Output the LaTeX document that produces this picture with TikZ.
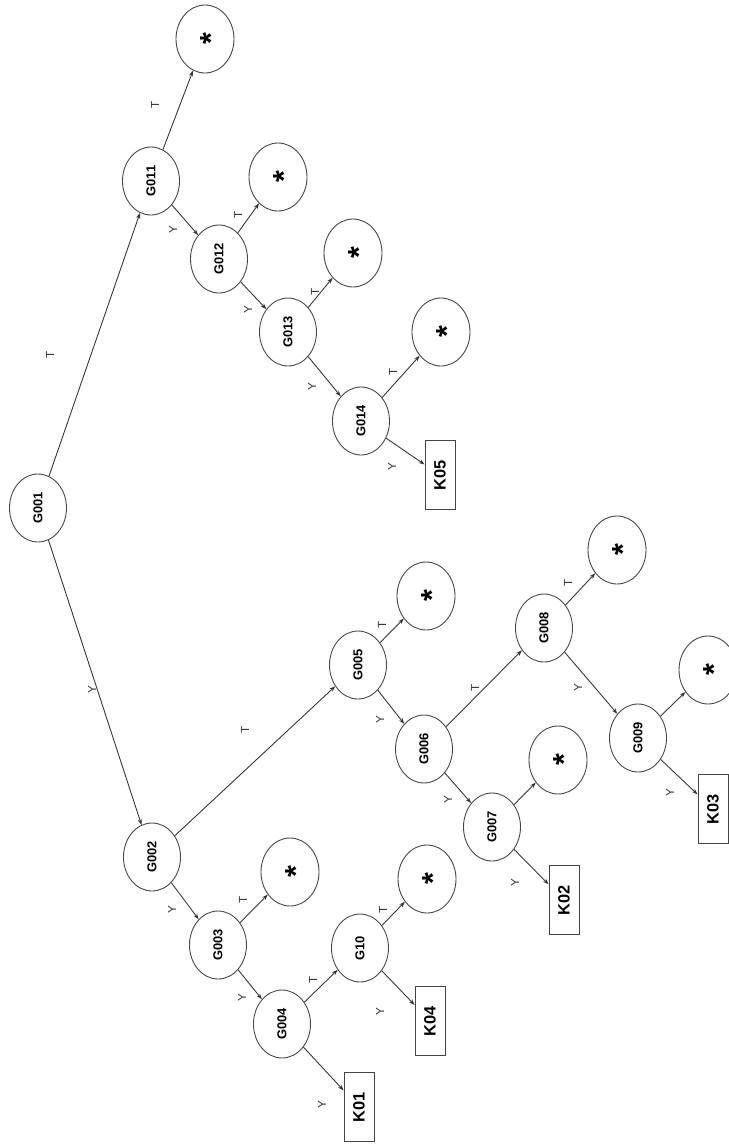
\documentclass[tikz,border=0pt]{standalone}
\usepackage{fontspec}
\setmainfont{Liberation Sans}
\usepackage{xcolor}
\usetikzlibrary{shapes.geometric,arrows.meta}
\definecolor{edgec}{HTML}{333333}
\definecolor{bordc}{HTML}{444444}
\newcommand{\starmark}{\smash{\raisebox{-0.55em}{*}}}

\begin{document}
\begin{tikzpicture}[x=0.03cm, y=-0.03cm,
    gnode/.style={ellipse, draw=bordc, line width=0.75pt, rotate=90, minimum width=2.04cm, minimum height=1.71cm, inner sep=1pt, font=\fontsize{11}{11}\selectfont\bfseries},
    starnode/.style={gnode, minimum height=1.74cm, font=\fontsize{26}{26}\selectfont\bfseries},
    kbox/.style={rectangle, draw=bordc, line width=0.75pt, rotate=90, minimum width=2.07cm, minimum height=0.9cm, inner sep=1pt, font=\fontsize{14}{14}\selectfont\bfseries},
    lbl/.style={rotate=90, inner sep=0pt, text=edgec, font=\fontsize{10}{10}\selectfont},
    arr/.style={draw=edgec, line width=0.75pt, -{Stealth[length=5pt,width=3.5pt]}}
]
    \useasboundingbox (0,0) rectangle (729,1148);

    % upper branch
    \node[gnode] (g001) at (38,508) {G001};
    \node[gnode] (g011) at (151,181) {G011};
    \node[starnode] (s11) at (205,39) {\starmark};
    \node[gnode] (g012) at (219,259) {G012};
    \node[starnode] (s12) at (278,177) {\starmark};
    \node[gnode] (g013) at (288,332) {G013};
    \node[starnode] (s13) at (353,253) {\starmark};
    \node[gnode] (g014) at (361,421) {G014};
    \node[starnode] (s14) at (441,332) {\starmark};
    \node[kbox] (k05) at (440,475) {K05};

    % lower branch
    \node[gnode] (g002) at (152,857) {G002};
    \node[gnode] (g003) at (218,945) {G003};
    \node[starnode] (s3) at (290,872) {\starmark};
    \node[gnode] (g004) at (282,1024) {G004};
    \node[gnode] (g10) at (360,948) {G10};
    \node[starnode] (s10) at (427,879) {\starmark};
    \node[kbox] (k04) at (430,1021) {K04};
    \node[kbox] (k01) at (359,1107) {K01};
    \node[gnode] (g005) at (358,665) {G005};
    \node[starnode] (s5) at (426,596) {\starmark};
    \node[gnode] (g006) at (424,749) {G006};
    \node[gnode] (g007) at (492,827) {G007};
    \node[starnode] (s7) at (558,760) {\starmark};
    \node[kbox] (k02) at (564,900) {K02};
    \node[gnode] (g008) at (544,628) {G008};
    \node[starnode] (s8) at (617,550) {\starmark};
    \node[gnode] (g009) at (638,738) {G009};
    \node[starnode] (s9) at (708,670) {\starmark};
    \node[kbox] (k03) at (713,809) {K03};

    \draw[arr] (g001) -- (g011);
    \draw[arr] (g001) -- (g002);
    \draw[arr] (g011) -- (s11);
    \draw[arr] (g011) -- (g012);
    \draw[arr] (g012) -- (s12);
    \draw[arr] (g012) -- (g013);
    \draw[arr] (g013) -- (s13);
    \draw[arr] (g013) -- (g014);
    \draw[arr] (g014) -- (s14);
    \draw[arr] (g014) -- (k05);
    \draw[arr] (g002) -- (g005);
    \draw[arr] (g002) -- (g003);
    \draw[arr] (g003) -- (s3);
    \draw[arr] (g003) -- (g004);
    \draw[arr] (g004) -- (g10);
    \draw[arr] (g004) -- (k01);
    \draw[arr] (g10) -- (s10);
    \draw[arr] (g10) -- (k04);
    \draw[arr] (g005) -- (s5);
    \draw[arr] (g005) -- (g006);
    \draw[arr] (g006) -- (g008);
    \draw[arr] (g006) -- (g007);
    \draw[arr] (g007) -- (s7);
    \draw[arr] (g007) -- (k02);
    \draw[arr] (g008) -- (s8);
    \draw[arr] (g008) -- (g009);
    \draw[arr] (g009) -- (s9);
    \draw[arr] (g009) -- (k03);

    % edge labels
    \node[lbl] (la1) at (50,355) {T};
    \node[lbl] (la2) at (92,690) {Y};
    \node[lbl] (la3) at (155,105) {T};
    \node[lbl] (la4) at (173,230) {Y};
    \node[lbl] (la5) at (238,215) {T};
    \node[lbl] (la6) at (248,310) {Y};
    \node[lbl] (la7) at (315,292) {T};
    \node[lbl] (la8) at (312,387) {Y};
    \node[lbl] (la9) at (393,372) {T};
    \node[lbl] (la10) at (392,467) {Y};
    \node[lbl] (la11) at (245,730) {T};
    \node[lbl] (la12) at (172,910) {Y};
    \node[lbl] (la13) at (243,900) {T};
    \node[lbl] (la14) at (242,998) {Y};
    \node[lbl] (la15) at (313,980) {T};
    \node[lbl] (la16) at (322,1105) {Y};
    \node[lbl] (la17) at (383,910) {T};
    \node[lbl] (la18) at (380,1012) {Y};
    \node[lbl] (la19) at (382,625) {T};
    \node[lbl] (la20) at (380,720) {Y};
    \node[lbl] (la21) at (475,688) {T};
    \node[lbl] (la22) at (448,800) {Y};
    \node[lbl] (la23) at (515,883) {Y};
    \node[lbl] (la24) at (568,583) {T};
    \node[lbl] (la25) at (578,688) {Y};
    \node[lbl] (la26) at (670,793) {Y};
\end{tikzpicture}
\end{document}
